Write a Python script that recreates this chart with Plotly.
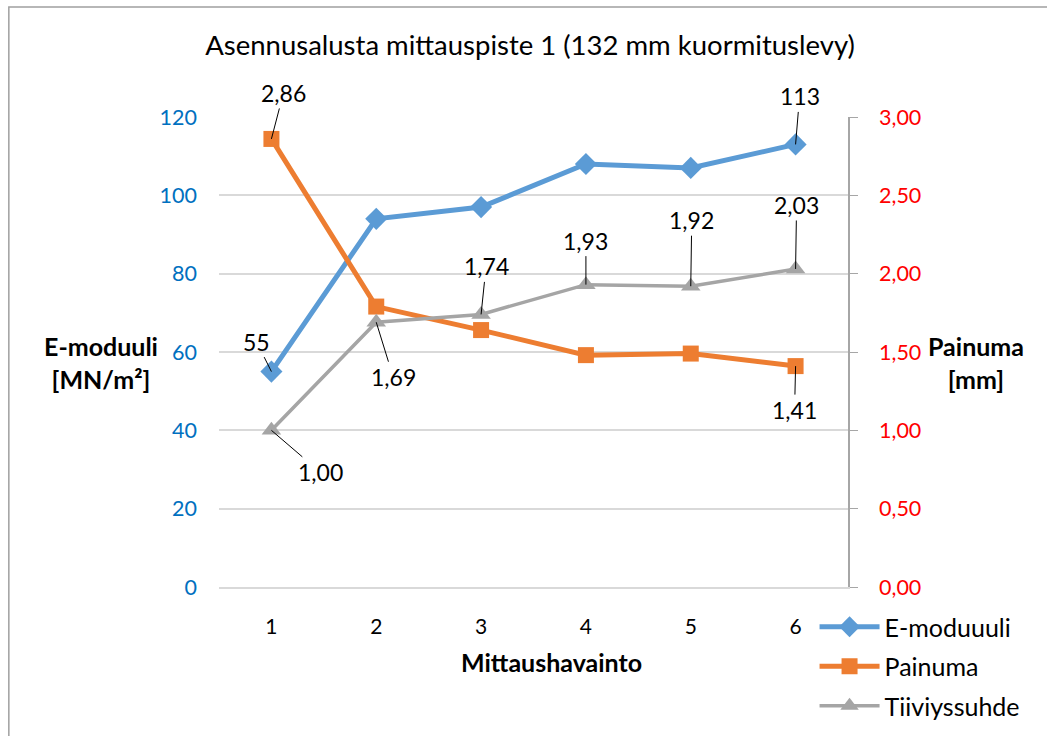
import plotly.graph_objects as go

# ---- data ----
categories = [1, 2, 3, 4, 5, 6]
e_moduuli = [55, 94, 97, 108, 107, 113]
painuma = [2.86, 1.79, 1.64, 1.48, 1.49, 1.41]
tiiviyssuhde = [1.00, 1.69, 1.74, 1.93, 1.92, 2.03]
left_ticks = [0, 20, 40, 60, 80, 100, 120]
right_ticks = [0, 0.5, 1.0, 1.5, 2.0, 2.5, 3.0]

FONT = "Lato"
BLUE = "#5B9BD5"
ORANGE = "#ED7D31"
GRAY = "#A5A5A5"

fig = go.Figure()
fig.add_trace(go.Scatter(
    x=categories, y=e_moduuli, name="E-moduuuli", mode="lines+markers",
    line=dict(color=BLUE, width=5), marker=dict(symbol="diamond", size=17, color=BLUE),
    legendgroup="a", yaxis="y"))
fig.add_trace(go.Scatter(
    x=categories, y=painuma, name="Painuma", mode="lines+markers",
    line=dict(color=ORANGE, width=5), marker=dict(symbol="square", size=16, color=ORANGE),
    legendgroup="b", yaxis="y2"))
fig.add_trace(go.Scatter(
    x=categories, y=tiiviyssuhde, name="Tiiviyssuhde", mode="lines+markers",
    line=dict(color=GRAY, width=3.5), marker=dict(symbol="triangle-up", size=17, color=GRAY),
    legendgroup="c", yaxis="y2"))


def fmt(v):
    return f"{v:.2f}".replace(".", ",")


def label(x, y, text, ax, ay, yref):
    fig.add_annotation(x=x, y=y, xref="x", yref=yref, text=text, showarrow=True,
                       ax=ax, ay=ay, arrowhead=0, arrowwidth=1, arrowcolor="black",
                       standoff=0, font=dict(family=FONT, size=23, color="black"))


# E-moduuli labels (first and last)
label(categories[0], e_moduuli[0], str(e_moduuli[0]), -15, -30, "y")
label(categories[5], e_moduuli[5], str(e_moduuli[5]), 4, -48, "y")
# Painuma labels (first and last)
label(categories[0], painuma[0], fmt(painuma[0]), 12, -46, "y2")
label(categories[5], painuma[5], fmt(painuma[5]), -1, 44, "y2")
# Tiiviyssuhde labels
t_off = [(49, 42), (17, 55), (5, -48), (0, -44), (1, -66), (1, -64)]
for c, v, (ax, ay) in zip(categories, tiiviyssuhde, t_off):
    label(c, v, fmt(v), ax, ay, "y2")

# axis titles
fig.add_annotation(x=(100 - 218.5) / 630, y=(587 - 362) / 470, xref="paper", yref="paper",
                   xanchor="center", yanchor="middle",
                   text="<b>E-moduuli</b><br><b>[MN/m²]</b>", showarrow=False,
                   font=dict(family=FONT, size=25, color="black"))
fig.add_annotation(x=(977 - 218.5) / 630, y=(587 - 362) / 470, xref="paper", yref="paper",
                   xanchor="center", yanchor="middle",
                   text="<b>Painuma</b><br><b>[mm]</b>", showarrow=False,
                   font=dict(family=FONT, size=25, color="black"))
fig.add_annotation(x=(552 - 218.5) / 630, y=(587 - 662) / 470, xref="paper", yref="paper",
                   xanchor="center", yanchor="middle",
                   text="<b>Mittaushavainto</b>", showarrow=False,
                   font=dict(family=FONT, size=25, color="black"))

# outer border
fig.add_shape(type="rect", xref="paper", yref="paper",
              x0=(8 - 218.5) / 630, x1=(1060 - 218.5) / 630,
              y0=(587 - 750) / 470, y1=(587 - 7) / 470,
              line=dict(color="#A0A0A0", width=1.5), layer="below")

fig.update_layout(
    width=1047, height=736,
    margin=dict(l=218.5, r=198.5, t=117, b=149, autoexpand=False),
    paper_bgcolor="white", plot_bgcolor="white",
    separators=", ",
    title=dict(text="Asennusalusta mittauspiste 1 (132 mm kuormituslevy)",
               x=530 / 1047, xanchor="center", y=1 - 45 / 736, yanchor="middle",
               font=dict(family=FONT, size=27.5, color="black")),
    font=dict(family=FONT, size=22, color="black"),
    xaxis=dict(range=[0.5, 6.5], tickvals=categories, ticktext=[str(c) for c in categories],
               showgrid=False, showline=True, linecolor="#D9D9D9", linewidth=1.5,
               ticks="", ticklabelstandoff=20, zeroline=False,
               tickfont=dict(family=FONT, size=21, color="black")),
    yaxis=dict(range=[0, 120], tickvals=left_ticks, showgrid=True, gridcolor="#D9D9D9",
               gridwidth=1.5, zeroline=False, showline=False, ticks="",
               ticklabelstandoff=21,
               tickfont=dict(family=FONT, size=21.5, color="#0070C0")),
    yaxis2=dict(range=[0, 3], tickvals=right_ticks, tickformat=".2f", overlaying="y",
                side="right", showgrid=False, zeroline=False, showline=True,
                linecolor="#A6A6A6", linewidth=1.5, ticks="outside", ticklen=8,
                tickcolor="#A6A6A6", ticklabelstandoff=17,
                tickfont=dict(family=FONT, size=21.5, color="#FF0000")),
    legend=dict(x=(815 - 218.5) / 630, y=(587 - 604) / 470, xanchor="left", yanchor="top",
                tracegroupgap=4, itemwidth=60, bgcolor="rgba(0,0,0,0)",
                font=dict(family=FONT, size=25, color="black")),
    showlegend=True,
)

fig.write_html("out.html", config={"displayModeBar": False},
               post_script="document.body.style.margin='0';")
